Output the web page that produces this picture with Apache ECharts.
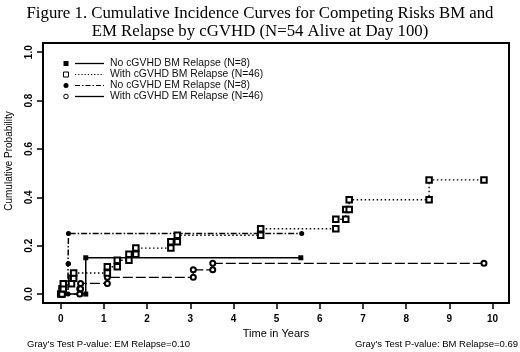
<!DOCTYPE html>
<html>
<head>
<meta charset="utf-8"/>
<title>Cumulative Incidence Curves</title>
<script src="https://cdn.jsdelivr.net/npm/echarts@6/dist/echarts.min.js"></script>
<style>
    html, body { margin: 0; padding: 0; background: #fff; }
    #chart { width: 520px; height: 352px; }
</style>
</head>
<body>
<div id="chart"></div>
<script>
// tick labels
var xTicks = [0, 1, 2, 3, 4, 5, 6, 7, 8, 9, 10];
var yTicks = [0, 0.2, 0.4, 0.6, 0.8, 1.0];

// event times (years) and cumulative incidence after each event
var noBmTimes   = [0, 0.05, 0.45, 0.58, 5.56];
var noBmLevels  = [0, 0, 0, 0.15, 0.15];

var withBmTimes  = [0, 0.03, 0.06, 0.25, 0.30, 1.08, 1.31, 1.58, 1.74, 2.55, 2.70, 4.63, 6.37, 6.60, 6.68, 8.53, 9.80];
var withBmLevels = [0, 0.022, 0.043, 0.065, 0.087, 0.113, 0.14, 0.165, 0.19, 0.216, 0.243, 0.27, 0.309, 0.35, 0.39, 0.472, 0.472];

var noEmTimes   = [0, 0.05, 0.17, 0.18, 5.58];
var noEmLevels  = [0, 0, 0.125, 0.25, 0.25];

var withEmTimes  = [0, 0.05, 0.44, 0.46, 1.08, 3.07, 3.52, 9.80];
var withEmLevels = [0, 0, 0.022, 0.044, 0.069, 0.10, 0.127, 0.127];

var seriesNames = [
    'No cGVHD BM Relapse (N=8)',
    'With cGVHD BM Relapse (N=46)',
    'No cGVHD EM Relapse (N=8)',
    'With cGVHD EM Relapse (N=46)'
];

// step function: horizontal to the next time, then jump
function steps(times, levels) {
    var pts = [[times[0], levels[0]]];
    for (var i = 1; i < times.length; i++) {
        pts.push([times[i], levels[i - 1]]);
        if (levels[i] !== levels[i - 1]) {
            pts.push([times[i], levels[i]]);
        }
    }
    return pts;
}

var font = '"Liberation Sans", Arial, sans-serif';

// legend drawn by hand: symbol, line sample, label
function legendRow(y, sym, dash, width, label) {
    var items = [];
    if (sym === 'rect') {
        items.push({type: 'rect', shape: {x: 63.5, y: y - 2.5, width: 5, height: 5}, style: {fill: '#000'}});
    } else if (sym === 'emptyRect') {
        items.push({type: 'rect', shape: {x: 63.5, y: y - 2.5, width: 5, height: 5}, style: {fill: '#fff', stroke: '#000', lineWidth: 1}});
    } else if (sym === 'circle') {
        items.push({type: 'circle', shape: {cx: 66, cy: y, r: 2.5}, style: {fill: '#000'}});
    } else {
        items.push({type: 'circle', shape: {cx: 66, cy: y, r: 2.3}, style: {fill: '#fff', stroke: '#000', lineWidth: 1}});
    }
    items.push({type: 'line', shape: {x1: 75, y1: y, x2: 104, y2: y},
        style: {stroke: '#000', lineWidth: width, lineDash: dash}});
    items.push({type: 'text', x: 110, y: y, style: {text: label, font: '10.4px ' + font, fill: '#111', verticalAlign: 'middle'}});
    return items;
}

var legendItems = []
    .concat(legendRow(63.5, 'rect', null, 1.3, seriesNames[0]))
    .concat(legendRow(74.5, 'emptyRect', [1.2, 2], 1, seriesNames[1]))
    .concat(legendRow(85.5, 'circle', [5, 2, 1.5, 2], 1.2, seriesNames[2]))
    .concat(legendRow(96.5, 'emptyCircle', null, 1.3, seriesNames[3]));

var chart = echarts.init(document.getElementById('chart'), null, {renderer: 'canvas'});

var option = {
    animation: false,
    backgroundColor: '#fff',
    title: {
        text: 'Figure 1. Cumulative Incidence Curves for Competing Risks BM and\nEM Relapse by cGVHD (N=54 Alive at Day 100)',
        left: 'center',
        top: 0,
        textStyle: {
            fontFamily: '"Liberation Serif", "Times New Roman", serif',
            fontSize: 16.8,
            fontWeight: 'normal',
            lineHeight: 18,
            color: '#000'
        }
    },
    grid: {
        left: 43, right: 11, top: 43, bottom: 49,
        show: true,
        borderColor: '#000',
        borderWidth: 2,
        outerBoundsMode: 'none'
    },
    xAxis: {
        type: 'value',
        min: -0.41,
        max: 10.38,
        name: 'Time in Years',
        nameLocation: 'middle',
        nameGap: 25,
        nameTextStyle: {fontFamily: font, fontSize: 11, color: '#000'},
        axisLine: {show: true, onZero: false, lineStyle: {color: '#000', width: 2}},
        axisTick: {show: true, length: 6, customValues: xTicks, lineStyle: {color: '#000', width: 1.5}},
        axisLabel: {customValues: xTicks, margin: 11, fontFamily: font, fontSize: 10, fontWeight: 'bold', color: '#000'},
        splitLine: {show: false}
    },
    yAxis: {
        type: 'value',
        min: -0.037,
        max: 1.038,
        name: 'Cumulative Probability',
        nameLocation: 'middle',
        nameGap: 29,
        nameTextStyle: {fontFamily: font, fontSize: 10, color: '#000', padding: [0, 0, 0, 24]},
        axisLine: {show: true, onZero: false, lineStyle: {color: '#000', width: 2}},
        axisTick: {show: true, length: 6, customValues: yTicks, lineStyle: {color: '#000', width: 1.5}},
        axisLabel: {
            customValues: yTicks,
            rotate: 90,
            margin: 9,
            fontFamily: font,
            fontSize: 10,
            fontWeight: 'bold',
            color: '#000',
            formatter: function (v) { return v.toFixed(1); }
        },
        splitLine: {show: false}
    },
    series: [
        {
            name: seriesNames[0],
            type: 'line',
            data: steps(noBmTimes, noBmLevels),
            symbol: 'rect',
            symbolSize: 5,
            lineStyle: {color: '#000', width: 1.5, type: 'solid'},
            itemStyle: {color: '#000'},
            z: 3
        },
        {
            name: seriesNames[1],
            type: 'line',
            data: steps(withBmTimes, withBmLevels),
            symbol: 'emptyRect',
            symbolSize: 5.5,
            lineStyle: {color: '#000', width: 1.4, type: [1.5, 2.5]},
            itemStyle: {color: '#000', borderWidth: 1},
            z: 4
        },
        {
            name: seriesNames[2],
            type: 'line',
            data: steps(noEmTimes, noEmLevels),
            symbol: 'circle',
            symbolSize: 5,
            lineStyle: {color: '#000', width: 1.5, type: [6, 2, 1.5, 2]},
            itemStyle: {color: '#000'},
            z: 3
        },
        {
            name: seriesNames[3],
            type: 'line',
            data: steps(withEmTimes, withEmLevels),
            symbol: 'emptyCircle',
            symbolSize: 5,
            lineStyle: {color: '#000', width: 1.2, type: [10, 3]},
            itemStyle: {color: '#000', borderWidth: 1},
            z: 3
        }
    ],
    graphic: [
        {type: 'group', children: legendItems},
        {
            type: 'text', left: 27, top: 339,
            style: {text: "Gray's Test P-value: EM Relapse=0.10", font: '9.5px ' + font, fill: '#000'}
        },
        {
            type: 'text', right: 2, top: 339,
            style: {text: "Gray's Test P-value: BM Relapse=0.69", font: '9.5px ' + font, fill: '#000'}
        }
    ]
};

chart.setOption(option);
</script>
</body>
</html>
